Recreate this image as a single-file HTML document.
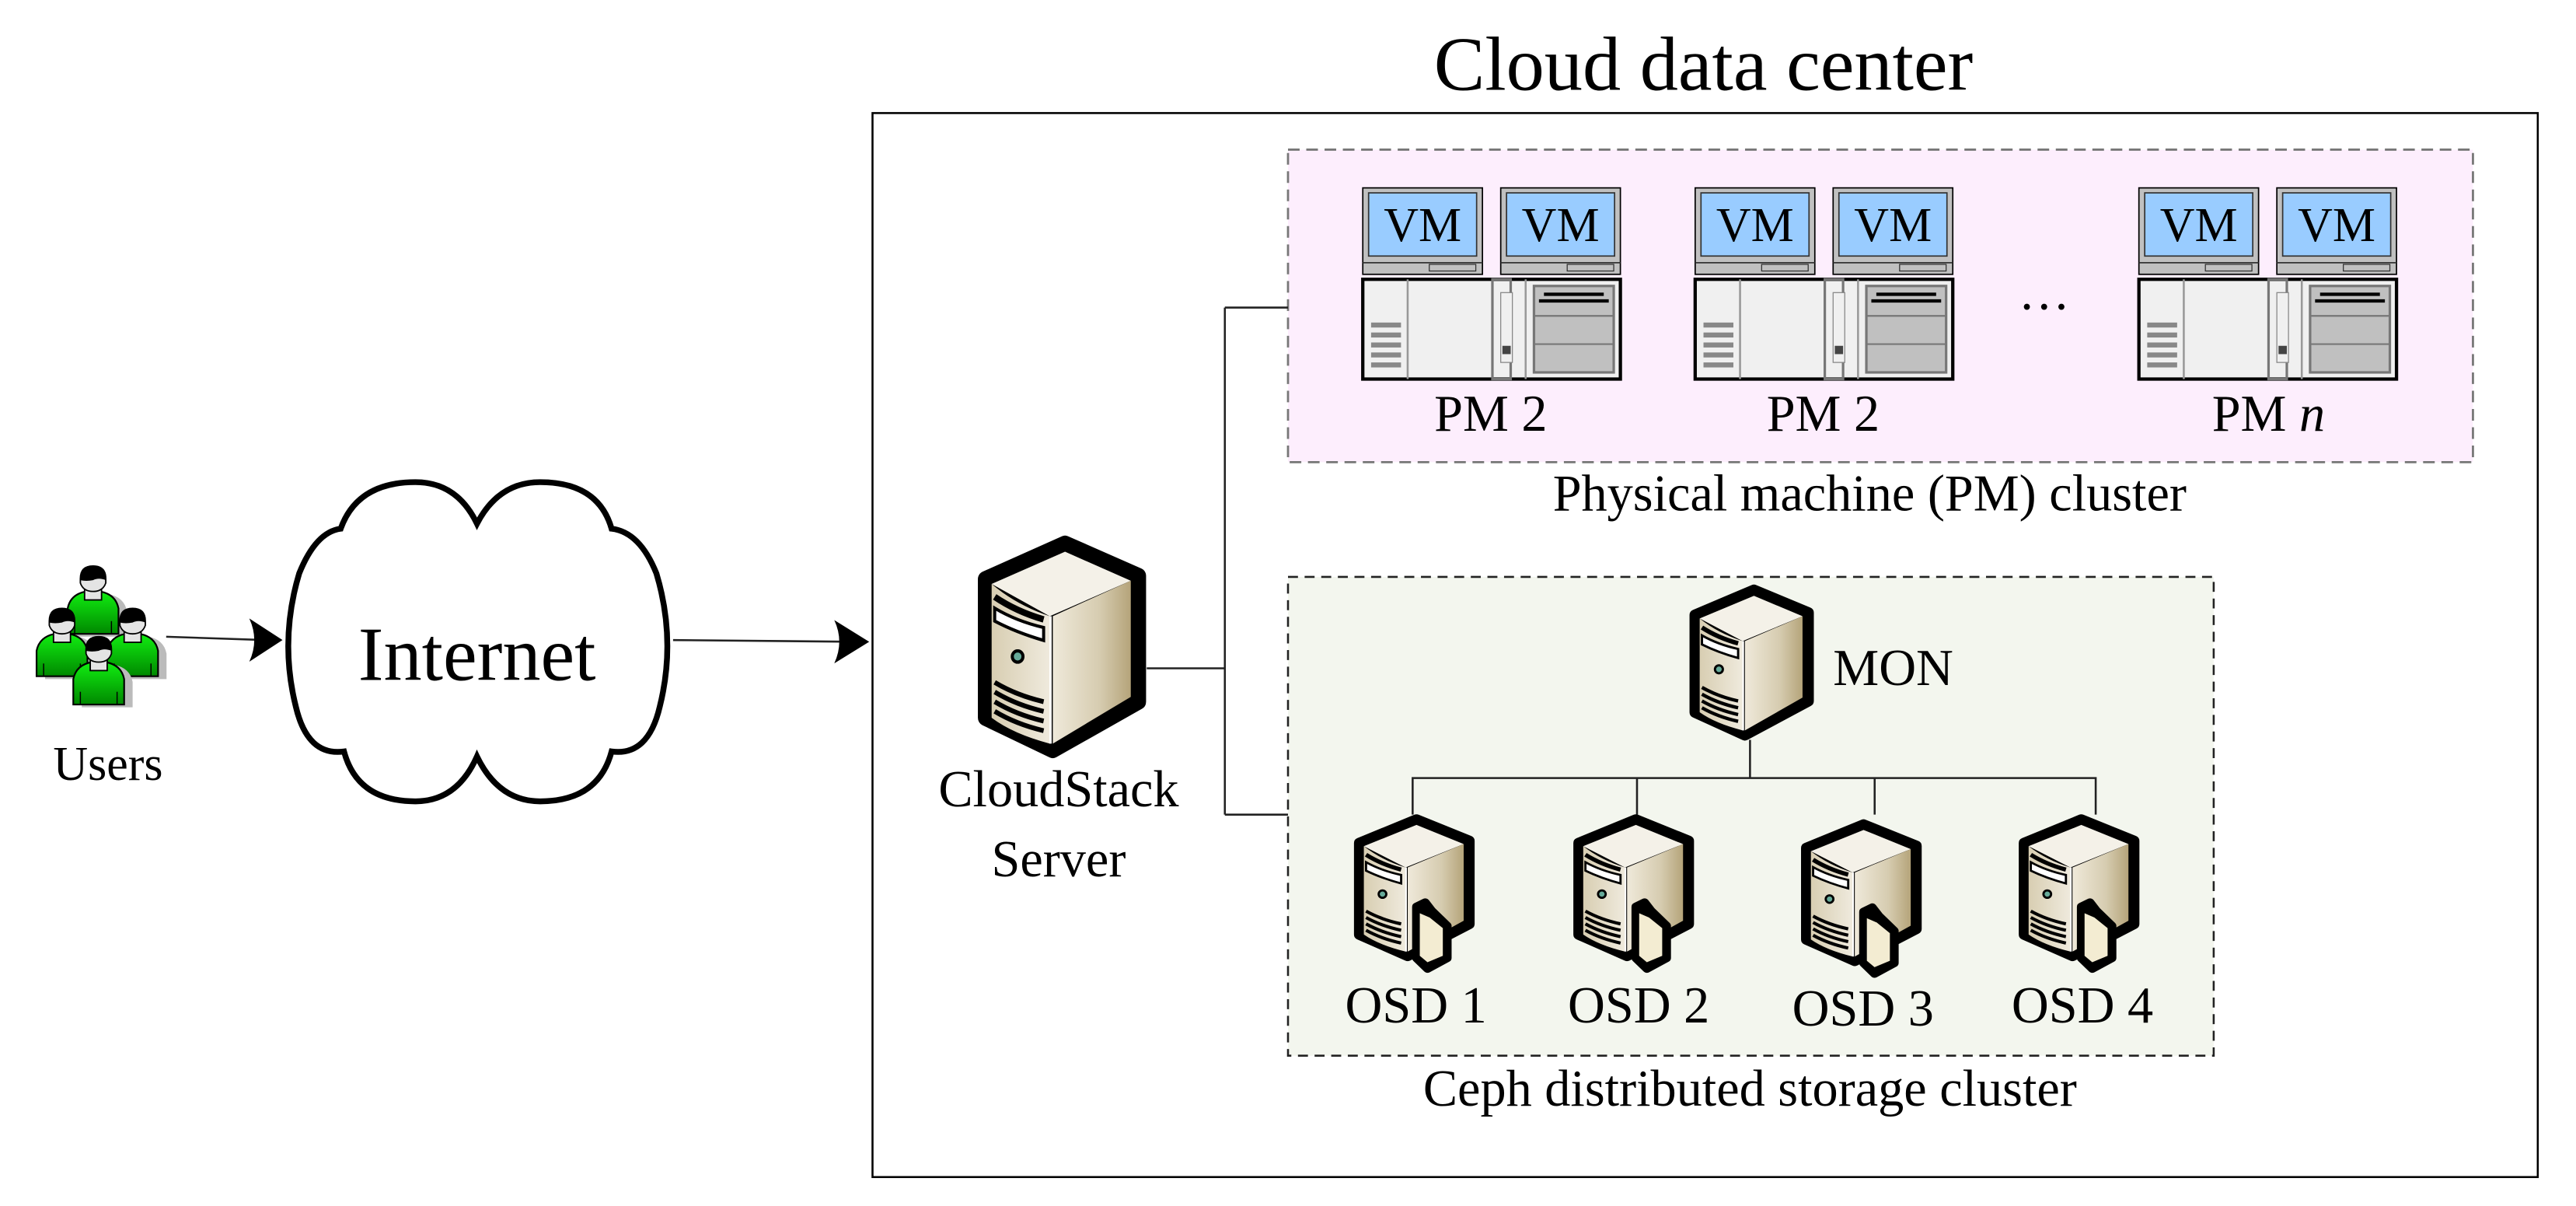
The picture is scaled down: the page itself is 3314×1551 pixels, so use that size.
<!DOCTYPE html>
<html><head><meta charset="utf-8"><style>
html,body{margin:0;padding:0;background:#fff;}
svg{display:block;}
text{font-family:"Liberation Serif",serif;fill:#000;}
</style></head><body>
<svg width="3314" height="1551" viewBox="0 0 1550 725.4" xmlns="http://www.w3.org/2000/svg">
<defs>
<linearGradient id="green" x1="0" y1="0" x2="0" y2="1"><stop offset="0" stop-color="#11ee11"/><stop offset="1" stop-color="#008800"/></linearGradient>
<linearGradient id="rf" x1="0" y1="0" x2="1" y2="0"><stop offset="0" stop-color="#efe9da"/><stop offset="0.6" stop-color="#d6ccb0"/><stop offset="1" stop-color="#b5a47a"/></linearGradient>
<linearGradient id="lf" x1="0" y1="0" x2="1" y2="0"><stop offset="0" stop-color="#d8ceb2"/><stop offset="1" stop-color="#efeadd"/></linearGradient>
<g id="person">
<path d="M3,45 L3,27 Q5,17 16,15 L26,15 Q37,17 39,27 L39,45 Z" fill="#bbb" transform="translate(3,2)"/>
<path d="M0,45 L0,27 Q2,17 13,15 L23,15 Q34,17 36,27 L36,45 Z" fill="url(#green)" stroke="#000" stroke-width="1.2"/>
<line x1="5" y1="36" x2="5" y2="45" stroke="#000" stroke-width="0.8"/><line x1="31" y1="36" x2="31" y2="45" stroke="#000" stroke-width="0.8"/>
<rect x="12" y="10" width="12" height="11" fill="#e4e4e4" stroke="#000" stroke-width="1"/>
<path d="M9,6 Q9,-3 18,-3 Q27,-3 27,6 L27,9 Q25,15 18,15 Q11,15 9,9 Z" fill="#e4e4e4" stroke="#000" stroke-width="1"/>
<path d="M9,6 Q9,-3 18,-3 Q27,-3 27,6 L27,7 Q22,5 18,7 Q13,8 9,7 Z" fill="#000"/>
</g>
<g id="server">
<path d="M0,22 L52,0 L100,20 L100,98 L44,128 L0,108 Z" fill="#000" stroke="#000" stroke-width="10" stroke-linejoin="round"/>
<path d="M4,25 L52,5 L95,23 L42,45 Z" fill="#f4f1e8"/>
<path d="M4,25 Q20,38 42,45 L42,124 Q18,118 4,108 Z" fill="url(#lf)"/>
<path d="M44,45 L95,23 L95,95 L44,124 Z" fill="url(#rf)"/>
<line x1="42.5" y1="45" x2="42.5" y2="124" stroke="#fff" stroke-width="1.5"/>
<path d="M6,33 Q20,42 38,47" stroke="#000" stroke-width="4" fill="none"/>
<path d="M6,40 Q20,48 38,52 L38,60 Q20,55 6,48 Z" fill="#fff" stroke="#000" stroke-width="2"/>
<circle cx="21" cy="70" r="3.5" fill="#6a9" stroke="#000" stroke-width="2"/>
<path d="M6,86 Q20,94 38,98 M6,92 Q20,100 38,104 M6,98 Q20,106 38,110 M6,104 Q20,112 38,116" stroke="#000" stroke-width="3" fill="none"/>
</g>
<g id="osd">
<use href="#server"/>
<path d="M52,82 L60,78 L66,86 L80,100 L80,130 L62,140 L52,130 Z" fill="#000" stroke="#000" stroke-width="8" stroke-linejoin="round"/>
<path d="M55,88 L64,92 L76,102 L76,128 L62,134 L55,128 Z" fill="#f3ecd2"/>
</g>
<g id="pm">
<rect x="0" y="0" width="72" height="52" fill="#c0c0c0" stroke="#000" stroke-width="0.8"/>
<rect x="3.5" y="3" width="65" height="38" fill="#99ccff" stroke="#333" stroke-width="0.8"/>
<line x1="0" y1="45" x2="72" y2="45" stroke="#333" stroke-width="0.8"/>
<rect x="40" y="46" width="28" height="4" fill="none" stroke="#333" stroke-width="0.6"/>
<text x="36" y="32" font-size="29" text-anchor="middle">VM</text>
<rect x="83" y="0" width="72" height="52" fill="#c0c0c0" stroke="#000" stroke-width="0.8"/>
<rect x="86.5" y="3" width="65" height="38" fill="#99ccff" stroke="#333" stroke-width="0.8"/>
<line x1="83" y1="45" x2="155" y2="45" stroke="#333" stroke-width="0.8"/>
<rect x="123" y="46" width="28" height="4" fill="none" stroke="#333" stroke-width="0.6"/>
<text x="119" y="32" font-size="29" text-anchor="middle">VM</text>
<rect x="0" y="55" width="155" height="60" fill="#f0f0f0" stroke="#000" stroke-width="2"/>
<line x1="27" y1="55" x2="27" y2="115" stroke="#999" stroke-width="1.2"/>
<line x1="98" y1="55" x2="98" y2="115" stroke="#999" stroke-width="1.2"/>
<rect x="78" y="55" width="11" height="60" fill="none" stroke="#777" stroke-width="1.5"/>
<rect x="83" y="63" width="7" height="42" fill="#f0f0f0" stroke="#888" stroke-width="0.6"/>
<rect x="84" y="95" width="5" height="5" fill="#444"/>
<rect x="103" y="59" width="48" height="52" fill="#c0c0c0" stroke="#777" stroke-width="1.5"/>
<rect x="109" y="63" width="36" height="2" fill="#000"/><rect x="106" y="67" width="42" height="2" fill="#000"/>
<line x1="103" y1="77" x2="151" y2="77" stroke="#777"/><line x1="103" y1="94" x2="151" y2="94" stroke="#777"/>
<g fill="#888"><rect x="5" y="81" width="18" height="3"/><rect x="5" y="87" width="18" height="3"/><rect x="5" y="93" width="18" height="3"/><rect x="5" y="99" width="18" height="3"/><rect x="5" y="105" width="18" height="3"/></g>
</g>
</defs>

<text x="1025" y="54" font-size="46" text-anchor="middle">Cloud data center</text>
<rect x="525" y="68" width="1002" height="640" fill="#fff" stroke="#000" stroke-width="1.2"/>

<rect x="775" y="90" width="713" height="188" fill="#fdeefd" stroke="#777" stroke-width="1.3" stroke-dasharray="7,4"/>
<text x="1125" y="307" font-size="31" text-anchor="middle">Physical machine (PM) cluster</text>
<use href="#pm" x="820" y="113"/>
<use href="#pm" x="1020" y="113"/>
<use href="#pm" x="1287" y="113"/>
<text x="1230" y="186" font-size="31" text-anchor="middle">…</text>
<text x="897" y="259" font-size="31" text-anchor="middle">PM 2</text>
<text x="1097" y="259" font-size="31" text-anchor="middle">PM 2</text>
<text x="1365" y="259" font-size="31" text-anchor="middle">PM <tspan font-style="italic">n</tspan></text>

<rect x="775" y="347" width="557" height="288" fill="#f3f6ee" stroke="#222" stroke-width="1.2" stroke-dasharray="6,4"/>
<text x="1053" y="665" font-size="31" text-anchor="middle">Ceph distributed storage cluster</text>

<g stroke="#222" stroke-width="1.2" fill="none">
<path d="M690,402 H737 M737,185 V490 M737,185 H775 M737,490 H775"/>
<path d="M1053,445 V468 M850,490 V468 H1261 V490 M985,468 V490 M1128,468 V490"/>
<path d="M100,383 L160,385 M405,385 L512,386"/>
</g>
<path d="M150,372 L170,385 L150,398 Q156,385 150,372 Z" fill="#000"/>
<path d="M502,373 L523,386 L502,399 Q508,386 502,373 Z" fill="#000"/>

<use href="#server" transform="translate(593,327) scale(0.92,0.97)"/>
<text x="637" y="485" font-size="31" text-anchor="middle">CloudStack</text>
<text x="637" y="527" font-size="31" text-anchor="middle">Server</text>

<use href="#server" transform="translate(1020,355) scale(0.68,0.68)"/>
<text x="1103" y="412" font-size="31">MON</text>
<use href="#osd" transform="translate(818,493) scale(0.66,0.64)"/>
<use href="#osd" transform="translate(950,493) scale(0.66,0.64)"/>
<use href="#osd" transform="translate(1087,496) scale(0.66,0.64)"/>
<use href="#osd" transform="translate(1218,493) scale(0.66,0.64)"/>
<text x="852" y="615" font-size="31" text-anchor="middle">OSD 1</text>
<text x="986" y="615" font-size="31" text-anchor="middle">OSD 2</text>
<text x="1121" y="617" font-size="31" text-anchor="middle">OSD 3</text>
<text x="1253" y="615" font-size="31" text-anchor="middle">OSD 4</text>

<path d="M205,318 Q190,320 180,345 Q168,385 178,425 Q185,455 207,452 Q215,482 250,482 Q275,482 287,455 Q300,482 325,482 Q360,482 368,452 Q390,455 397,425 Q407,385 395,345 Q385,320 368,318 Q360,290 325,290 Q300,290 287,315 Q275,290 250,290 Q215,290 205,318 Z" fill="#fff" stroke="#000" stroke-width="3.5"/>
<text x="287" y="409" font-size="46" text-anchor="middle">Internet</text>

<g transform="translate(22,343) scale(0.85)">
<use href="#person" x="22" y="0"/>
<use href="#person" x="0" y="30"/>
<use href="#person" x="50" y="30"/>
<use href="#person" x="26" y="50"/>
</g>
<text x="65" y="469" font-size="29" text-anchor="middle">Users</text>
</svg>
</body></html>
